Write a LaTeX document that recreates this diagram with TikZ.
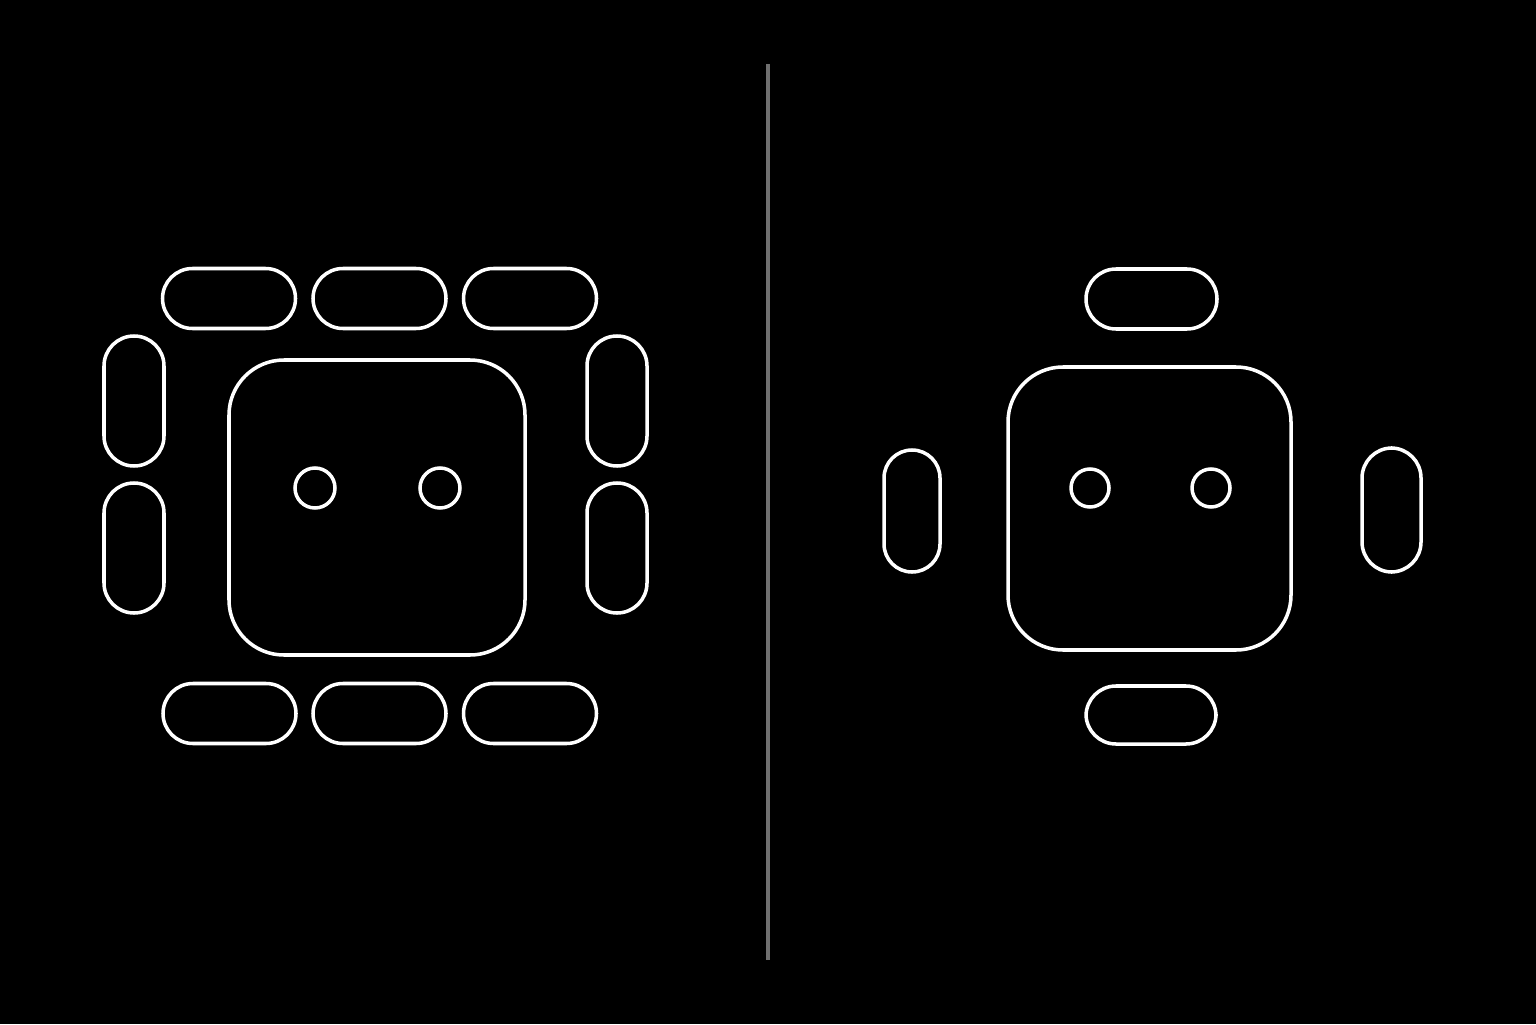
\documentclass[tikz,border=0pt]{standalone}
\usepackage{tikz}
\usetikzlibrary{arrows,positioning}
\definecolor{bgcol}{RGB}{0,0,0}
\definecolor{edgecol}{RGB}{255,255,255}
\definecolor{divcol}{RGB}{112,112,112}
\tikzstyle{table}=[draw=edgecol, line width=2pt, rounded corners=1.1cm, inner sep=0pt]
\tikzstyle{hchair}=[draw=edgecol, line width=2pt, rounded corners=0.6cm, inner sep=0pt, minimum width=2.66cm, minimum height=1.2cm]
\tikzstyle{vchair}=[draw=edgecol, line width=2pt, rounded corners=0.6cm, inner sep=0pt, minimum width=1.2cm, minimum height=2.6cm]
\tikzstyle{hole}=[draw=edgecol, line width=2pt, circle, inner sep=0pt, minimum size=0.8cm]

\begin{document}
\begin{tikzpicture}[node distance=3cm]
		    \fill[bgcol] (0,0) rectangle (30.72,20.48);
		    \useasboundingbox (0,0) rectangle (30.72,20.48);
		    % left: table with ten chairs
		    \node [table, minimum width=5.92cm, minimum height=5.9cm] (A) at (7.54,10.33) {};
		    \node [hole] (Ah1) at (6.30,10.72) {};
		    \node [hole] (Ah2) at (8.80,10.72) {};
		    \node [hchair] (At1) at (4.58,14.51) {};
		    \node [hchair] (At2) [right of=At1,node distance=3.01cm] {};
		    \node [hchair] (At3) [right of=At2,node distance=3.01cm] {};
		    \node [hchair] (Ab1) at (4.59,6.21) {};
		    \node [hchair] (Ab2) [right of=Ab1,node distance=3.0cm] {};
		    \node [hchair] (Ab3) [right of=Ab2,node distance=3.01cm] {};
		    \node [vchair] (Al1) at (2.68,12.46) {};
		    \node [vchair] (Al2) [below of=Al1,node distance=2.94cm] {};
		    \node [vchair] (Ar1) at (12.34,12.46) {};
		    \node [vchair] (Ar2) [below of=Ar1,node distance=2.94cm] {};
		    % divider
		    \coordinate (dtop) at (15.36,19.2);
		    \coordinate (dbot) at (15.36,1.28);
		    \draw[divcol, line width=2.2pt] (dtop) -- (dbot);
		    % right: table with four chairs
		    \node [table, minimum width=5.66cm, minimum height=5.66cm] (B) at (22.99,10.31) {};
		    \node [hole, minimum size=0.76cm] (Bh1) at (21.80,10.72) {};
		    \node [hole, minimum size=0.76cm] (Bh2) at (24.22,10.72) {};
		    \node [hchair, minimum width=2.62cm] (Bt) at (23.03,14.50) {};
		    \node [hchair, minimum width=2.6cm, minimum height=1.16cm] (Bb) at (23.02,6.18) {};
		    \node [vchair, minimum width=1.12cm, minimum height=2.44cm, rounded corners=0.56cm] (Bl) at (18.24,10.26) {};
		    \node [vchair, minimum width=1.18cm, minimum height=2.48cm] (Br) at (27.83,10.28) {};
		\end{tikzpicture}
\end{document}
